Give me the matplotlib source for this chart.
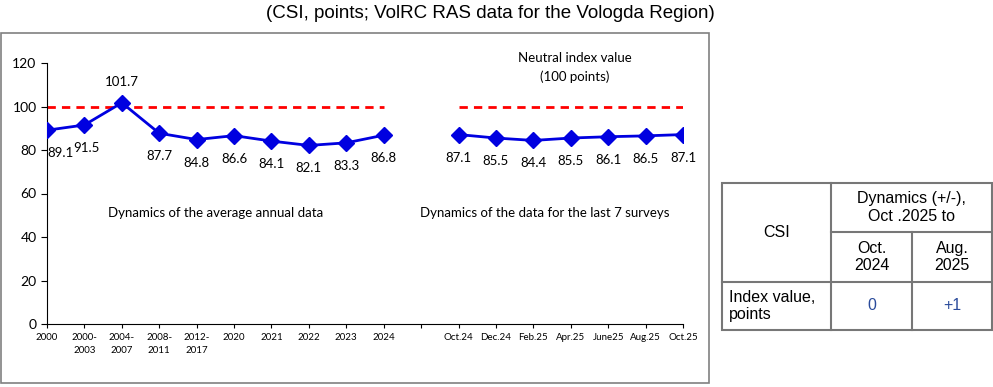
import numpy as np
import matplotlib
matplotlib.use("Agg")
import matplotlib.pyplot as plt

plt.rcParams['font.family'] = ['Lato', 'DejaVu Sans']

# data
annual_labels = ['2000', '2000-\n2003', '2004-\n2007', '2008-\n2011', '2012-\n2017',
                 '2020', '2021', '2022', '2023', '2024']
annual_values = [89.1, 91.5, 101.7, 87.7, 84.8, 86.6, 84.1, 82.1, 83.3, 86.8]
survey_labels = ['Oct.24', 'Dec.24', 'Feb.25', 'Apr.25', 'June25', 'Aug.25', 'Oct.25']
survey_values = [87.1, 85.5, 84.4, 85.5, 86.1, 86.5, 87.1]
neutral = 100

table_header = 'Dynamics (+/-),\nOct .2025 to'
table_cols = ['Oct.\n2024', 'Aug.\n2025']
table_row = 'Index value,\npoints'
table_vals = ['0', '+1']

W, H = 993, 387
fig = plt.figure(figsize=(W / 100, H / 100), dpi=100)

# overlay in pixel coords for box, title and table
ov = fig.add_axes([0, 0, 1, 1])
ov.set_xlim(0, W)
ov.set_ylim(H, 0)
ov.axis('off')

narrow = ['Liberation Sans Narrow', 'Liberation Sans', 'DejaVu Sans']
ov.text(490, 14, '(CSI, points; VolRC RAS data for the Vologda Region)', ha='center', va='center',
        fontsize=13.5, family=narrow)
ov.add_patch(plt.Rectangle((1, 33), 708, 350, fill=False, ec='#808080', lw=1.2))

# main chart
x0, x1, ytop, ybot = 47, 683, 63, 324
ax = fig.add_axes([x0 / W, (H - ybot) / H, (x1 - x0) / W, (ybot - ytop) / H])
n_a = len(annual_values)
xa = np.arange(n_a)
xs = np.arange(len(survey_values)) + n_a + 1
ax.plot(xa, annual_values, color='#0000E0', lw=2, marker='D', ms=8, zorder=3)
ax.plot(xs, survey_values, color='#0000E0', lw=2, marker='D', ms=8, zorder=3)
ax.plot([xa[0], xa[-1]], [neutral, neutral], color='#FF0000', lw=2, ls=(0, (3, 2.2)), zorder=2)
ax.plot([xs[0], xs[-1]], [neutral, neutral], color='#FF0000', lw=2, ls=(0, (3, 2.2)), zorder=2)

for i, v in zip(xa, annual_values):
    if v > neutral:
        ax.annotate(f'{v:.1f}', (i, v), xytext=(0, 21), textcoords='offset pixels',
                    ha='center', va='center', fontsize=9.5)
    else:
        dx = 13 if i == 0 else 2 if i == 1 else 0
        ax.annotate(f'{v:.1f}', (i, v), xytext=(dx, -23), textcoords='offset pixels',
                    ha='center', va='center', fontsize=9.5)
for i, v in zip(xs, survey_values):
    ax.annotate(f'{v:.1f}', (i, v), xytext=(0, -23), textcoords='offset pixels',
                ha='center', va='center', fontsize=9.5)

ax.text(4.5, 51, 'Dynamics of the average annual data', ha='center', va='center', fontsize=9.5)
ax.text(13.3, 51, 'Dynamics of the data for the last 7 surveys', ha='center', va='center', fontsize=9.5)
ax.text(14.1, 118, 'Neutral index value\n(100 points)', ha='center', va='center', fontsize=9.5,
        linespacing=1.6)

ax.set_xlim(0, len(annual_values) + len(survey_values))
ax.set_ylim(0, 120)
ax.set_yticks(range(0, 121, 20))
ax.set_xticks(np.arange(n_a + 1 + len(survey_values)))
ax.set_xticklabels(annual_labels + [''] + survey_labels, fontsize=7, linespacing=1.5)
ax.tick_params(axis='y', labelsize=10, length=4, width=0.8)
ax.tick_params(axis='x', length=3, width=0.8)
ax.spines['top'].set_visible(False)
ax.spines['right'].set_visible(False)
ax.patch.set_alpha(0)

# table
tl, tr, tt, tb = 722, 992, 183, 330
c1, c2 = 831, 912
r1, r2 = 232, 282
lc, lw = '#777777', 1.5
ov.add_patch(plt.Rectangle((tl, tt), tr - tl, tb - tt, fill=False, ec=lc, lw=lw))
ov.plot([c1, c1], [tt, tb], color=lc, lw=lw)
ov.plot([c2, c2], [r1, tb], color=lc, lw=lw)
ov.plot([c1, tr], [r1, r1], color=lc, lw=lw)
ov.plot([tl, tr], [r2, r2], color=lc, lw=lw)
tfs = 11.5
ov.text((tl + c1) / 2, (tt + r2) / 2, 'CSI', ha='center', va='center', fontsize=tfs, family=narrow)
ov.text((c1 + tr) / 2, (tt + r1) / 2, table_header, ha='center', va='center', fontsize=tfs,
        family=narrow)
ov.text((c1 + c2) / 2, (r1 + r2) / 2, table_cols[0], ha='center', va='center', fontsize=tfs,
        family=narrow)
ov.text((c2 + tr) / 2, (r1 + r2) / 2, table_cols[1], ha='center', va='center', fontsize=tfs,
        family=narrow)
ov.text(tl + 7, (r2 + tb) / 2, table_row, ha='left', va='center', fontsize=tfs, family=narrow)
ov.text((c1 + c2) / 2, (r2 + tb) / 2, table_vals[0], ha='center', va='center', fontsize=tfs,
        family=narrow, color='#2A4B9B')
ov.text((c2 + tr) / 2, (r2 + tb) / 2, table_vals[1], ha='center', va='center', fontsize=tfs,
        family=narrow, color='#2A4B9B')

fig.savefig('out.png', dpi=100)
